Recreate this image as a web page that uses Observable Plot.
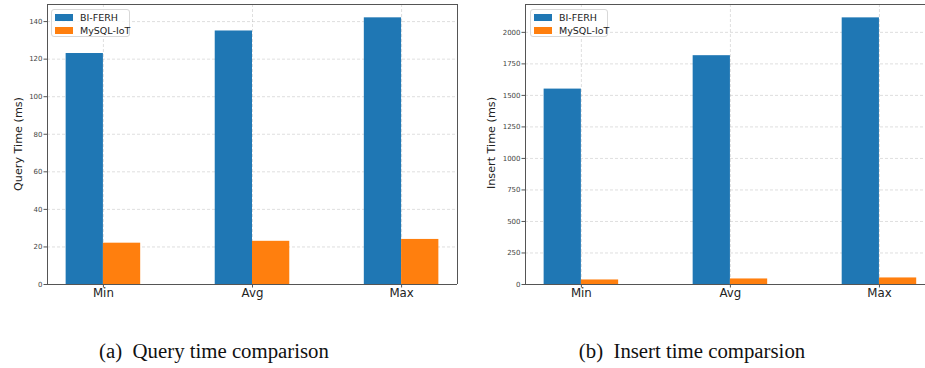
<!DOCTYPE html>
<html><head><meta charset="utf-8">
<script src="https://cdn.jsdelivr.net/npm/d3@7"></script>
<script src="https://cdn.jsdelivr.net/npm/@observablehq/plot@0.6"></script>
<style>
body{margin:0;background:#fff;font-family:"DejaVu Sans",sans-serif;}
#wrap{position:relative;width:925px;height:368px;overflow:hidden;background:#fff;}
.panel{position:absolute;top:0;}
.panel svg{display:block;}
.legend{position:absolute;top:9px;height:28px;box-sizing:border-box;border:1px solid #d8d8d8;border-radius:3px;background:rgba(255,255,255,0.8);font-size:9.5px;color:#222;}
.legend .row{position:absolute;left:0;height:13px;line-height:13px;white-space:nowrap;}
.legend .sw{position:absolute;left:3px;top:3px;width:18px;height:6.5px;}
.legend .lab{position:absolute;left:28px;top:0;}
.ylab{position:absolute;font-size:11.2px;color:#222;white-space:nowrap;transform:translate(-50%,-50%) rotate(-90deg);line-height:1;}
.caption{position:absolute;font-family:"Liberation Serif","Times New Roman",serif;font-size:20.8px;line-height:1;white-space:pre;transform:translateX(-50%);color:#111;}
</style>
</head><body>
<div id="wrap"></div>
<script>
const categories = ["Min", "Avg", "Max"];
const seriesNames = ["BI-FERH", "MySQL-IoT"];
const seriesColors = ["#1f77b4", "#ff7f0e"];
const queryBIFERH = [123, 135, 142];
const queryMySQL = [22, 23, 24];
const insertBIFERH = [1550, 1815, 2115];
const insertMySQL = [36, 44, 52];
const queryTicks = [0, 20, 40, 60, 80, 100, 120, 140];
const insertTicks = [0, 250, 500, 750, 1000, 1250, 1500, 1750, 2000];
const queryLabel = "Query Time (ms)";
const insertLabel = "Insert Time (ms)";
const captionA = "(a)  Query time comparison";
const captionB = "(b)  Insert time comparsion";

const BAR_W = 0.25;

function rowsFrom(a, b) {
  const rows = [];
  [a, b].forEach((vals, s) => {
    vals.forEach((v, i) => rows.push({
      cat: categories[i], idx: i, series: seriesNames[s], s,
      x1: i - BAR_W + s * BAR_W, x2: i + s * BAR_W, value: v
    }));
  });
  return rows;
}

function makeChart({a, b, ticks, yMax, width, marginLeft, marginRight, xMax, rightFrame}) {
  const rows = rowsFrom(a, b);
  const xMin = -0.375;
  const marks = [
    Plot.gridY(ticks, {stroke: "#b0b0b0", strokeOpacity: 0.4, strokeDasharray: "3,2"}),
    Plot.gridX([0, 1, 2], {stroke: "#b0b0b0", strokeOpacity: 0.4, strokeDasharray: "3,2"}),
    Plot.rect(rows, {x1: "x1", x2: "x2", y1: 0, y2: "value", fill: "series"}),
    Plot.axisY(ticks, {fontSize: 7, tickSize: 3.5, tickPadding: 1.5, color: "#444", stroke: "#555", label: null, tickFormat: d => String(d)}),
    Plot.axisX([0, 1, 2], {fontSize: 11.8, tickSize: 3.5, tickPadding: 1, color: "#222", stroke: "#555", label: null, tickFormat: i => categories[i]}),
    Plot.ruleY([0, yMax], {stroke: "#555", strokeWidth: 1}),
    Plot.ruleX(rightFrame ? [xMin, xMax] : [xMin], {stroke: "#555", strokeWidth: 1})
  ];
  return Plot.plot({
    width, height: 306,
    marginLeft, marginRight, marginTop: 4, marginBottom: 22,
    style: {fontFamily: "DejaVu Sans, sans-serif", background: "#fff"},
    x: {type: "linear", domain: [xMin, xMax], axis: null},
    y: {domain: [0, yMax], axis: null},
    color: {domain: seriesNames, range: seriesColors},
    marks
  });
}

const wrap = document.getElementById("wrap");

function addPanel(left, chart) {
  const d = document.createElement("div");
  d.className = "panel";
  d.style.left = left + "px";
  d.appendChild(chart);
  wrap.appendChild(d);
}

function addLegend(left, width) {
  const lg = document.createElement("div");
  lg.className = "legend";
  lg.style.left = left + "px";
  lg.style.width = width + "px";
  seriesNames.forEach((name, s) => {
    const r = document.createElement("div");
    r.className = "row";
    r.style.top = (1 + s * 13) + "px";
    const sw = document.createElement("div");
    sw.className = "sw";
    sw.style.background = seriesColors[s];
    const lab = document.createElement("div");
    lab.className = "lab";
    lab.textContent = name;
    r.appendChild(sw); r.appendChild(lab);
    lg.appendChild(r);
  });
  wrap.appendChild(lg);
}

function addText(cls, text, left, top) {
  const t = document.createElement("div");
  t.className = cls;
  t.textContent = text;
  t.style.left = left + "px";
  t.style.top = top + "px";
  wrap.appendChild(t);
}

addPanel(0, makeChart({a: queryBIFERH, b: queryMySQL, ticks: queryTicks, yMax: 149.1,
  width: 470, marginLeft: 47, marginRight: 13, xMax: 2.375, rightFrame: true}));
addPanel(470, makeChart({a: insertBIFERH, b: insertMySQL, ticks: insertTicks, yMax: 2221,
  width: 455, marginLeft: 55, marginRight: 0, xMax: 2.309, rightFrame: false}));

addLegend(51, 79);
addLegend(530, 78);
addText("ylab", queryLabel, 18.5, 144);
addText("ylab", insertLabel, 491.5, 143);
addText("caption", captionA, 214, 340.6);
addText("caption", captionB, 692, 340.6);
</script>
</body></html>
